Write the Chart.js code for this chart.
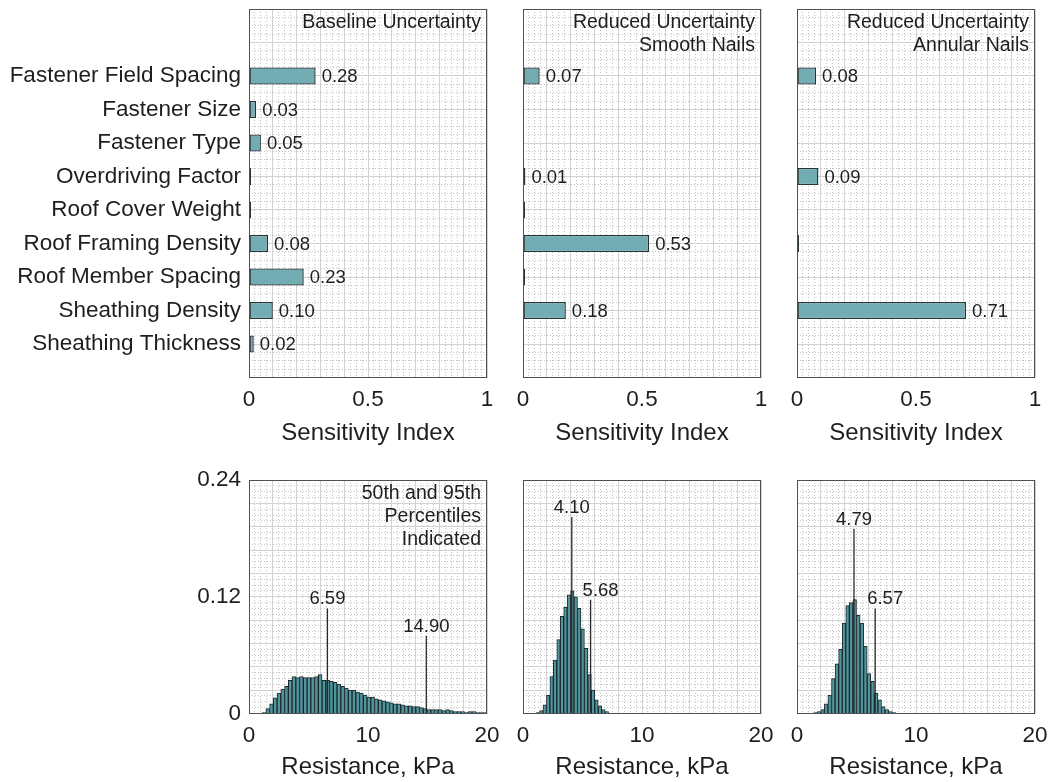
<!DOCTYPE html>
<html>
<head>
<meta charset="utf-8">
<title>Sensitivity and resistance</title>
<script src="https://cdn.jsdelivr.net/npm/chart.js@4.4.1/dist/chart.umd.min.js"></script>
<style>
  html, body { margin: 0; padding: 0; background: #ffffff; }
  #figure { position: relative; width: 1051px; height: 782px; overflow: hidden; }
  #figure canvas { position: absolute; }
</style>
</head>
<body>
<div id="figure">
  <canvas id="sensBase"></canvas>
  <canvas id="sensSmooth"></canvas>
  <canvas id="sensAnnular"></canvas>
  <canvas id="resBase"></canvas>
  <canvas id="resSmooth"></canvas>
  <canvas id="resAnnular"></canvas>
</div>
<script>
// ---- sensitivity indices (listed top to bottom) ----
const factors = [
  'Fastener Field Spacing', 'Fastener Size', 'Fastener Type', 'Overdriving Factor',
  'Roof Cover Weight', 'Roof Framing Density', 'Roof Member Spacing',
  'Sheathing Density', 'Sheathing Thickness'
];
const sensBaseline = [0.28, 0.03, 0.05, 0.006, 0.001, 0.08, 0.23, 0.10, 0.02];
const sensSmooth   = [0.07, 0, 0, 0.01, 0.002, 0.53, 0.002, 0.18, 0];
const sensAnnular  = [0.08, 0, 0, 0.09, 0, 0.008, 0, 0.71, 0];
const sensTicks = [0, 0.5, 1];

// ---- resistance histograms (probability per bin) ----
const histBaselineStart = 1.1;
const histBaselineBin = 0.315;
const histBaseline = [
  0.001, 0.005, 0.010, 0.016, 0.021, 0.025, 0.028, 0.034, 0.038, 0.037,
  0.038, 0.037, 0.037, 0.037, 0.038, 0.040, 0.034, 0.034, 0.033, 0.032,
  0.030, 0.028, 0.026, 0.024, 0.024, 0.022, 0.021, 0.019, 0.017, 0.017,
  0.015, 0.014, 0.013, 0.012, 0.011, 0.010, 0.010, 0.009, 0.008, 0.008,
  0.007, 0.007, 0.006, 0.005, 0.004, 0.004, 0.004, 0.004, 0.003, 0.004,
  0.003, 0.002, 0.002, 0.002, 0.001, 0.002, 0.002, 0.001, 0.001, 0.001
];
const histSmoothStart = 1.1;
const histSmoothBin = 0.29;
const histSmooth = [
  0.001, 0.003, 0.009, 0.019, 0.038, 0.055, 0.076, 0.100, 0.109, 0.122,
  0.126, 0.120, 0.108, 0.087, 0.067, 0.040, 0.024, 0.014, 0.008, 0.004, 0.002
];
const histAnnularStart = 1.4;
const histAnnularBin = 0.3;
const histAnnular = [
  0.001, 0.002, 0.004, 0.010, 0.019, 0.036, 0.051, 0.066, 0.093, 0.111,
  0.114, 0.117, 0.101, 0.093, 0.069, 0.041, 0.033, 0.021, 0.014, 0.007,
  0.004, 0.002, 0.001
];

// 50th / 95th percentiles and the height of their marker lines
const pctBaseline = [6.59, 14.90];
const pctBaselineTop = [0.108, 0.080];
const pctSmooth = [4.10, 5.68];
const pctSmoothTop = [0.202, 0.117];
const pctAnnular = [4.79, 6.57];
const pctAnnularTop = [0.190, 0.108];

const resTicks = [0, 10, 20];
const probTicks = [0, 0.12, 0.24];

// ---- look ----
const FONT = "'Liberation Sans', Arial, Helvetica, sans-serif";
const INK = '#1e1e1e';
const GRID_MAJOR = '#d2d2d2';
const GRID_MINOR = '#c4c4c4';

Chart.defaults.font.family = FONT;
Chart.defaults.color = INK;

const cols = [{ l: 249, r: 487 }, { l: 523, r: 761 }, { l: 797, r: 1035 }];
// canvases of the upper row start above the page so the tick labels have room
const topRow = { top: -30, bottom: 455, t: 9, b: 377.5, titlePad: 7.6 };
const lowRow = { top: 440, bottom: 782, t: 480, b: 713.5, titlePad: 0.6 };

function steps(min, max, step) {
  const out = [];
  const n = Math.round((max - min) / step);
  for (let i = 0; i <= n; i++) out.push(+(min + i * step).toFixed(6));
  return out;
}
const isListed = (v, list) => list.some(t => Math.abs(t - v) < 1e-9);

function mount(id, col, row, leftEdge) {
  const c = document.getElementById(id);
  const width = col.r + 24 - leftEdge;
  const height = row.bottom - row.top;
  c.width = width; c.height = height;
  c.style.left = leftEdge + 'px';
  c.style.top = row.top + 'px';
  c.style.width = width + 'px';
  c.style.height = height + 'px';
  return c;
}

// axis carrying the labels and the solid grid
function mainAxis({ position, min, max, step, labelAt, format, title, titlePad, size }) {
  const horizontal = position === 'bottom';
  return {
    type: 'linear', position, min, max, offset: false,
    afterBuildTicks: s => { s.ticks = steps(min, max, step).map(value => ({ value })); },
    ticks: {
      display: !!labelAt, autoSkip: false, maxRotation: 0, minRotation: 0,
      padding: horizontal ? 9 : 8,
      color: INK, font: { family: FONT, size: 22.5 },
      callback: v => (labelAt && isListed(v, labelAt) ? format(v) : '')
    },
    grid: { offset: false, drawTicks: false, color: GRID_MAJOR, lineWidth: 1 },
    border: { display: false },
    title: title
      ? { display: true, text: title, color: INK, font: { family: FONT, size: 24 }, padding: { top: 0, bottom: titlePad } }
      : { display: false },
    afterFit: s => { if (horizontal) s.height = size; else s.width = size; }
  };
}

// dotted minor grid, takes no room in the layout
function minorAxis(position, min, max, step, majorStep) {
  return {
    type: 'linear', position, min, max, offset: false,
    afterBuildTicks: s => { s.ticks = steps(min, max, step).map(value => ({ value })); },
    ticks: { display: false, autoSkip: false },
    grid: {
      offset: false, drawTicks: false, lineWidth: 1,
      color: c => (Math.abs(c.tick.value / majorStep - Math.round(c.tick.value / majorStep)) < 1e-6 ? 'rgba(0,0,0,0)' : GRID_MINOR),
      borderDash: [1, 2]
    },
    border: { display: false, dash: [1, 2] },
    afterFit: s => { if (s.isHorizontal()) s.height = 0; else s.width = 0; }
  };
}

const frame = {
  id: 'frame',
  afterDraw(chart) {
    const { ctx, chartArea: a } = chart;
    ctx.save();
    ctx.strokeStyle = '#505050';
    ctx.lineWidth = 1;
    const l = Math.round(a.left) + 0.5, t = Math.round(a.top) + 0.5;
    ctx.strokeRect(l, t, Math.round(a.right) - 1 - l + 0.5, Math.round(a.bottom) - 1 - t + 0.5);
    ctx.restore();
  }
};

const cornerNote = {
  id: 'cornerNote',
  afterDraw(chart, args, opts) {
    if (!opts.lines) return;
    const { ctx, chartArea: a } = chart;
    ctx.save();
    ctx.font = `19.5px ${FONT}`;
    ctx.fillStyle = INK;
    ctx.textAlign = 'right';
    ctx.textBaseline = 'middle';
    opts.lines.forEach((t, i) => ctx.fillText(t, a.right - 6, a.top + 14 + i * 23));
    ctx.restore();
  }
};

// value printed at the end of each bar
const barValues = {
  id: 'barValues',
  afterDatasetsDraw(chart) {
    const { ctx } = chart;
    const meta = chart.getDatasetMeta(0);
    const data = chart.data.datasets[0].data;
    ctx.save();
    ctx.font = `18.5px ${FONT}`;
    ctx.fillStyle = INK;
    ctx.textAlign = 'left';
    ctx.textBaseline = 'middle';
    meta.data.forEach((bar, i) => {
      const v = data[i].x;
      if (v >= 0.01) ctx.fillText(v.toFixed(2), bar.x + 6, bar.y + 1);
    });
    ctx.restore();
  }
};

// number above each percentile marker
const percentileText = {
  id: 'percentileText',
  afterDatasetsDraw(chart, args, opts) {
    const { ctx, scales } = chart;
    ctx.save();
    ctx.font = `18.5px ${FONT}`;
    ctx.fillStyle = INK;
    ctx.textAlign = 'center';
    ctx.textBaseline = 'alphabetic';
    (opts.marks || []).forEach(m => {
      ctx.fillText(m.value.toFixed(2), scales.x.getPixelForValue(m.value) + m.shift, scales.y.getPixelForValue(m.top) - 4);
    });
    ctx.restore();
  }
};

function sensitivityChart(id, col, leftEdge, values, note, withNames) {
  const canvas = mount(id, col, topRow, leftEdge);
  const n = factors.length;
  new Chart(canvas, {
    type: 'bar',
    data: {
      datasets: [{
        // zero indices are left out, tiny ones still show as a sliver
        data: values.map((v, i) => ({ x: v > 0 ? v : null, y: n - i })),
        backgroundColor: '#72adb4',
        borderColor: '#263436',
        borderWidth: 1.4,
        borderSkipped: false,
        minBarLength: 2,
        barPercentage: 0.51,
        categoryPercentage: 1
      }]
    },
    options: {
      indexAxis: 'y',
      responsive: false,
      animation: false,
      events: [],
      layout: { padding: { left: 0, right: 24, top: topRow.t - topRow.top, bottom: 0 } },
      plugins: { legend: { display: false }, tooltip: { enabled: false }, cornerNote: { lines: note } },
      scales: {
        x: mainAxis({ position: 'bottom', min: 0, max: 1, step: 0.1, labelAt: sensTicks, format: v => String(v),
          title: 'Sensitivity Index', titlePad: topRow.titlePad, size: topRow.bottom - topRow.b }),
        xm: minorAxis('top', 0, 1, 0.025, 0.1),
        y: mainAxis({ position: 'left', min: 0, max: n + 2, step: 1, labelAt: withNames ? steps(1, n, 1) : null,
          format: v => factors[n - v], size: col.l - leftEdge }),
        ym: minorAxis('right', 0, n + 2, 0.25, 1)
      }
    },
    plugins: [frame, barValues, cornerNote]
  });
}

function resistanceChart(id, col, leftEdge, start, bin, values, pcts, tops, shifts, note, withProb) {
  const canvas = mount(id, col, lowRow, leftEdge);
  const markers = pcts.map((p, k) => ({
    type: 'line',
    data: [{ x: p, y: 0 }, { x: p, y: tops[k] }],
    borderColor: '#2a2a2a',
    borderWidth: 1.3,
    pointRadius: 0,
    order: 0
  }));
  new Chart(canvas, {
    type: 'bar',
    data: {
      datasets: [{
        data: values.map((v, i) => ({ x: start + (i + 0.5) * bin, y: v })),
        backgroundColor: '#4f969f',
        borderColor: '#1d2628',
        borderWidth: 1,
        barPercentage: 1,
        categoryPercentage: 1,
        order: 1
      }, ...markers]
    },
    options: {
      responsive: false,
      animation: false,
      events: [],
      layout: { padding: { left: 0, right: 24, top: lowRow.t - lowRow.top, bottom: 0 } },
      plugins: {
        legend: { display: false }, tooltip: { enabled: false },
        cornerNote: { lines: note },
        percentileText: { marks: pcts.map((p, k) => ({ value: p, top: tops[k], shift: shifts[k] })) }
      },
      scales: {
        x: mainAxis({ position: 'bottom', min: 0, max: 20, step: 2, labelAt: resTicks, format: v => String(v),
          title: 'Resistance, kPa', titlePad: lowRow.titlePad, size: lowRow.bottom - lowRow.b }),
        xm: minorAxis('top', 0, 20, 0.5, 2),
        y: mainAxis({ position: 'left', min: 0, max: 0.24, step: 0.024, labelAt: withProb ? probTicks : null,
          format: v => String(v), size: col.l - leftEdge }),
        ym: minorAxis('right', 0, 0.24, 0.006, 0.024)
      }
    },
    plugins: [frame, percentileText, cornerNote]
  });
}

sensitivityChart('sensBase', cols[0], 0, sensBaseline, ['Baseline Uncertainty'], true);
sensitivityChart('sensSmooth', cols[1], cols[1].l - 30, sensSmooth, ['Reduced Uncertainty', 'Smooth Nails'], false);
sensitivityChart('sensAnnular', cols[2], cols[2].l - 30, sensAnnular, ['Reduced Uncertainty', 'Annular Nails'], false);

resistanceChart('resBase', cols[0], 0, histBaselineStart, histBaselineBin, histBaseline,
  pctBaseline, pctBaselineTop, [0, 0], ['50th and 95th', 'Percentiles', 'Indicated'], true);
resistanceChart('resSmooth', cols[1], cols[1].l - 30, histSmoothStart, histSmoothBin, histSmooth,
  pctSmooth, pctSmoothTop, [0, 10], null, false);
resistanceChart('resAnnular', cols[2], cols[2].l - 30, histAnnularStart, histAnnularBin, histAnnular,
  pctAnnular, pctAnnularTop, [0, 10], null, false);
</script>
</body>
</html>
